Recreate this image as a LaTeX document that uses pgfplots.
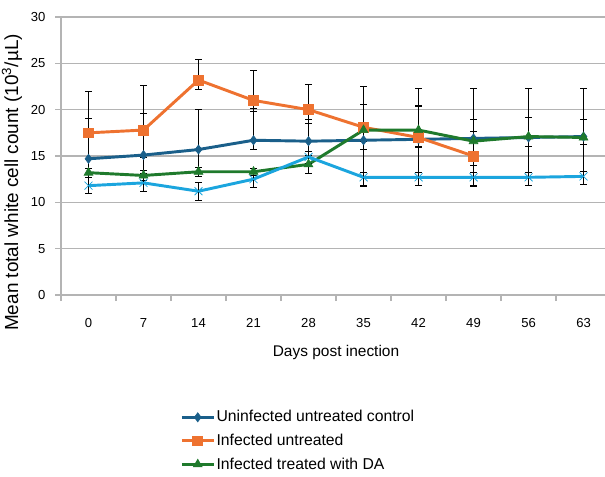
\documentclass[border=0pt]{standalone}
\usepackage{pgfplots}
\pgfplotsset{compat=1.18}
\usepackage{fontspec}
\setmainfont{Liberation Sans}
\definecolor{cblue}{HTML}{1A5F8A}
\definecolor{corange}{HTML}{EE7230}
\definecolor{cgreen}{HTML}{1F7A2C}
\definecolor{clblue}{HTML}{1BA5DE}
\definecolor{lgray}{HTML}{B4B4B4}
\begin{document}
\begin{tikzpicture}
\begin{axis}[
  at={(45.75pt,0pt)}, anchor=south west,
  scale only axis, width=412.5pt, height=208.5pt,
  xmin=-0.5, xmax=9.5, ymin=0, ymax=30,
  ytick={0,5,...,30},
  xtick={0,...,9}, xticklabels={0,7,14,21,28,35,42,49,56,63},
  minor xtick={-0.5,0.5,...,9.5},
  axis x line*=bottom, axis y line*=left,
  axis line style={draw=lgray, line width=0.8pt, -},
  ymajorgrids, grid style={draw=lgray, line width=0.8pt},
  tick align=outside,
  major tick length=4.5pt, minor tick length=4.5pt,
  major x tick style={draw=none},
  minor x tick style={draw=lgray, line width=0.8pt},
  y tick style={draw=lgray, line width=0.8pt},
  /pgf/number format/assume math mode=true,
  tick label style={font=\fontsize{9.8}{11}\selectfont},
  yticklabel style={inner sep=0pt, xshift=-7pt},
  xticklabel style={inner sep=0pt, yshift=-13pt},
  xlabel={Days post inection},
  xlabel style={font=\fontsize{11.6}{14}\selectfont, at={(axis description cs:0.5,0)}, anchor=center, yshift=-42.75pt},
  ylabel={Mean total white cell count (10\textsuperscript{3}/µL)},
  ylabel style={font=\fontsize{14.2}{16}\selectfont, at={(axis description cs:-0.0891,0.405)}, anchor=center, rotate=0},
  legend style={at={(axis description cs:0.2164,-0.41)}, anchor=north west, draw=none, fill=none,
    font=\fontsize{11.8}{14}\selectfont, row sep=5.6pt, inner sep=0pt, nodes={inner sep=1pt}},
  legend cell align=left,
  legend image code/.code={\draw[mark repeat=2,mark phase=2,#1] plot coordinates {(0pt,0pt) (12pt,0pt) (24pt,0pt)};},
  every axis plot/.append style={line width=2.2pt},
  error bars/y dir=both, error bars/y explicit,
  error bars/error bar style={black, line width=0.55pt, solid},
  error bars/error mark options={black, rotate=90, mark size=2.4pt, line width=0.65pt, solid},
  clip=false,
]
\addplot[cblue, mark=diamond*, mark size=3.4pt, mark options={solid, line width=0.5pt}]
  table[x=x, y=y, y error plus=ep, y error minus=em] {
x y ep em
0 14.7 4.4 2.0
1 15.1 4.5 2.0
2 15.7 4.3 2.4
3 16.7 3.4 1.0
4 16.6 2.4 1.1
5 16.7 5.8 5.0
6 16.8 5.5 5.0
7 16.9 5.4 5.2
8 17.0 5.3 5.2
9 17.1 5.2 5.2
};
\addlegendentry{Uninfected untreated control}
\addplot[corange, mark=square*, mark size=3.7pt, mark options={solid, line width=0.5pt}]
  table[x=x, y=y, y error plus=ep, y error minus=em] {
x y ep em
0 17.5 4.5 3.8
1 17.8 4.8 3.0
2 23.2 2.2 1.0
3 21.0 3.2 1.2
4 20.0 2.7 1.5
5 18.1 2.5 1.5
6 17.0 3.5 1.0
7 15.0 2.6 1.0
};
\addlegendentry{Infected untreated}
\addplot[cgreen, mark=triangle*, mark size=3.8pt, mark options={solid, line width=0.5pt}]
  table[x=x, y=y, y error plus=ep, y error minus=em] {
x y ep em
0 13.2 0.5 0.5
1 12.9 0.5 0.5
2 13.3 0.5 0.5
3 13.3 0.4 0.4
4 14.1 1.0 1.0
5 17.8 2.8 2.1
6 17.8 2.6 1.9
7 16.6 2.4 2.2
8 17.1 2.1 1.1
9 17.0 2.0 0.8
};
\addlegendentry{Infected treated with DA}
\addplot[clblue, mark=x, mark size=4.2pt, mark options={solid, line width=0.6pt}, forget plot]
  table[x=x, y=y, y error plus=ep, y error minus=em] {
x y ep em
0 11.8 0.9 0.85
1 12.1 0.7 0.9
2 11.2 1.0 1.0
3 12.5 0.6 0.9
4 14.9 0.6 0.7
5 12.7 0.5 0.9
6 12.7 0.5 0.9
7 12.7 0.5 0.9
8 12.7 0.5 0.9
9 12.8 0.5 0.9
};
\end{axis}
\pgfresetboundingbox
\useasboundingbox (0pt,-135.75pt) rectangle (453.75pt,221.25pt);
\end{tikzpicture}
\end{document}
